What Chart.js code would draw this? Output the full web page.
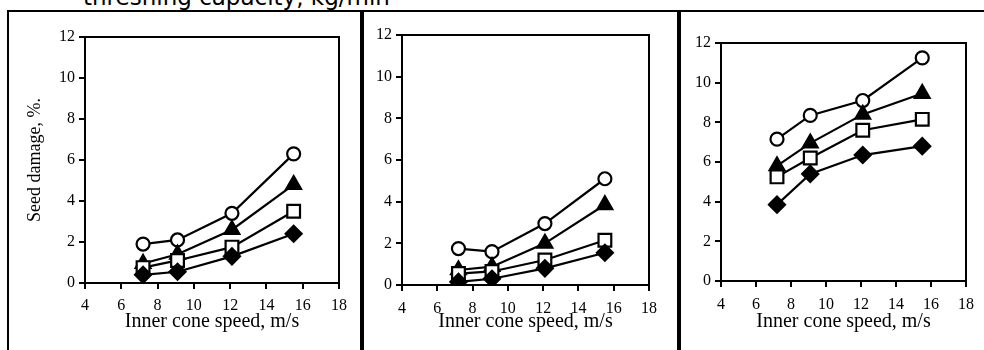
<!DOCTYPE html>
<html>
<head>
<meta charset="utf-8">
<script src="https://cdn.jsdelivr.net/npm/chart.js@4/dist/chart.umd.min.js"></script>
<style>
  body { margin: 0; background: #fff; width: 984px; height: 350px; overflow: hidden; position: relative; }
  .cap { position: absolute; left: 83px; top: -13px; font: 23px "DejaVu Sans", sans-serif; line-height: 20px; color: #000; white-space: nowrap; }
  .line { position: absolute; background: #000; }
  canvas { position: absolute; }
</style>
</head>
<body>
<div class="cap">threshing capacity, kg/min</div>
<div class="line" style="left:7px; top:10px; width:977px; height:2px;"></div>
<div class="line" style="left:7px; top:10px; width:2px; height:340px;"></div>
<div class="line" style="left:360px; top:10px; width:4px; height:340px;"></div>
<div class="line" style="left:677px; top:10px; width:4px; height:340px;"></div>

<canvas id="c1" width="345" height="314" style="left:10px; top:20px;"></canvas>
<canvas id="c2" width="295" height="314" style="left:370px; top:20px;"></canvas>
<canvas id="c3" width="296" height="314" style="left:686px; top:20px;"></canvas>

<script>
// inner cone speed, m/s
const speeds = [7.2, 9.1, 12.1, 15.5];
const xTicks = [4, 6, 8, 10, 12, 14, 16, 18];
const yTicks = [0, 2, 4, 6, 8, 10, 12];

// seed damage, % (one array per marker, per panel)
const p1Circle   = [1.9, 2.1, 3.4, 6.3];
const p1Triangle = [0.95, 1.4, 2.6, 4.8];
const p1Square   = [0.75, 1.1, 1.75, 3.5];
const p1Diamond  = [0.4, 0.55, 1.3, 2.4];

const p2Circle   = [1.75, 1.6, 2.95, 5.1];
const p2Triangle = [0.72, 0.88, 2.0, 3.85];
const p2Square   = [0.55, 0.65, 1.2, 2.15];
const p2Diamond  = [0.15, 0.3, 0.8, 1.55];

const p3Circle   = [7.15, 8.35, 9.1, 11.25];
const p3Triangle = [5.8, 6.95, 8.4, 9.45];
const p3Square   = [5.25, 6.2, 7.6, 8.15];
const p3Diamond  = [3.85, 5.4, 6.35, 6.8];

const serif = '"Liberation Serif", "Times New Roman", serif';

// box round the plot area
const frame = {
  id: 'frame',
  afterDraw(chart) {
    const a = chart.chartArea, ctx = chart.ctx;
    ctx.save();
    ctx.strokeStyle = '#000';
    ctx.lineWidth = 2;
    ctx.strokeRect(a.left, a.top, a.right - a.left, a.bottom - a.top);
    ctx.restore();
  }
};

function series(vals, style) {
  const open = style === 'circle' || style === 'rect';
  const radius = { circle: 6.5, triangle: 8.5, rect: 9, rectRot: 8 }[style];
  return {
    data: speeds.map((x, i) => ({ x: x, y: vals[i] })),
    borderColor: '#000',
    borderWidth: 2.2,
    pointStyle: style,
    pointRadius: radius,
    pointBackgroundColor: open ? '#fff' : '#000',
    pointBorderColor: '#000',
    pointBorderWidth: 2.2,
    tension: 0
  };
}

function makePanel(id, sets, o) {
  new Chart(document.getElementById(id), {
    type: 'line',
    data: {
      datasets: [
        series(sets[3], 'rectRot'),
        series(sets[2], 'rect'),
        series(sets[1], 'triangle'),
        series(sets[0], 'circle')
      ]
    },
    options: {
      responsive: false,
      animation: false,
      events: [],
      layout: { padding: { top: o.top, right: o.right, left: 0, bottom: 0 } },
      plugins: { legend: { display: false }, tooltip: { enabled: false } },
      scales: {
        x: {
          type: 'linear', min: 4, max: 18,
          afterBuildTicks: s => { s.ticks = xTicks.map(v => ({ value: v })); },
          afterFit: s => { s.height = o.xh; },
          grid: { drawOnChartArea: false, drawTicks: true, tickLength: 6, color: '#000', lineWidth: 2 },
          border: { color: '#000', width: 2 },
          ticks: { color: '#000', padding: o.xpad, maxRotation: 0, font: { family: serif, size: 16 } },
          title: { display: true, text: 'Inner cone speed, m/s', color: '#000', padding: 0,
                   font: { family: serif, size: 20 } }
        },
        y: {
          type: 'linear', min: 0, max: 12,
          afterBuildTicks: s => { s.ticks = yTicks.map(v => ({ value: v })); },
          afterFit: s => { s.width = o.yw; },
          grid: { drawOnChartArea: false, drawTicks: true, tickLength: 6, color: '#000', lineWidth: 2 },
          border: { color: '#000', width: 2 },
          ticks: { color: '#000', padding: 4, font: { family: serif, size: 16 } },
          title: { display: !!o.ytitle, text: o.ytitle || '', color: '#000', padding: { top: 14, bottom: 0 },
                   font: { family: serif, size: 18 } }
        }
      }
    },
    plugins: [frame]
  });
}

document.addEventListener('DOMContentLoaded', () => {
  makePanel('c1', [p1Circle, p1Triangle, p1Square, p1Diamond],
            { top: 17, right: 16, yw: 75, xh: 51, xpad: 7, ytitle: 'Seed damage, %.' });
  makePanel('c2', [p2Circle, p2Triangle, p2Square, p2Diamond],
            { top: 15, right: 12, yw: 32, xh: 49, xpad: 8 });
  makePanel('c3', [p3Circle, p3Triangle, p3Square, p3Diamond],
            { top: 23, right: 10, yw: 35, xh: 53, xpad: 8 });
});
</script>
</body>
</html>
